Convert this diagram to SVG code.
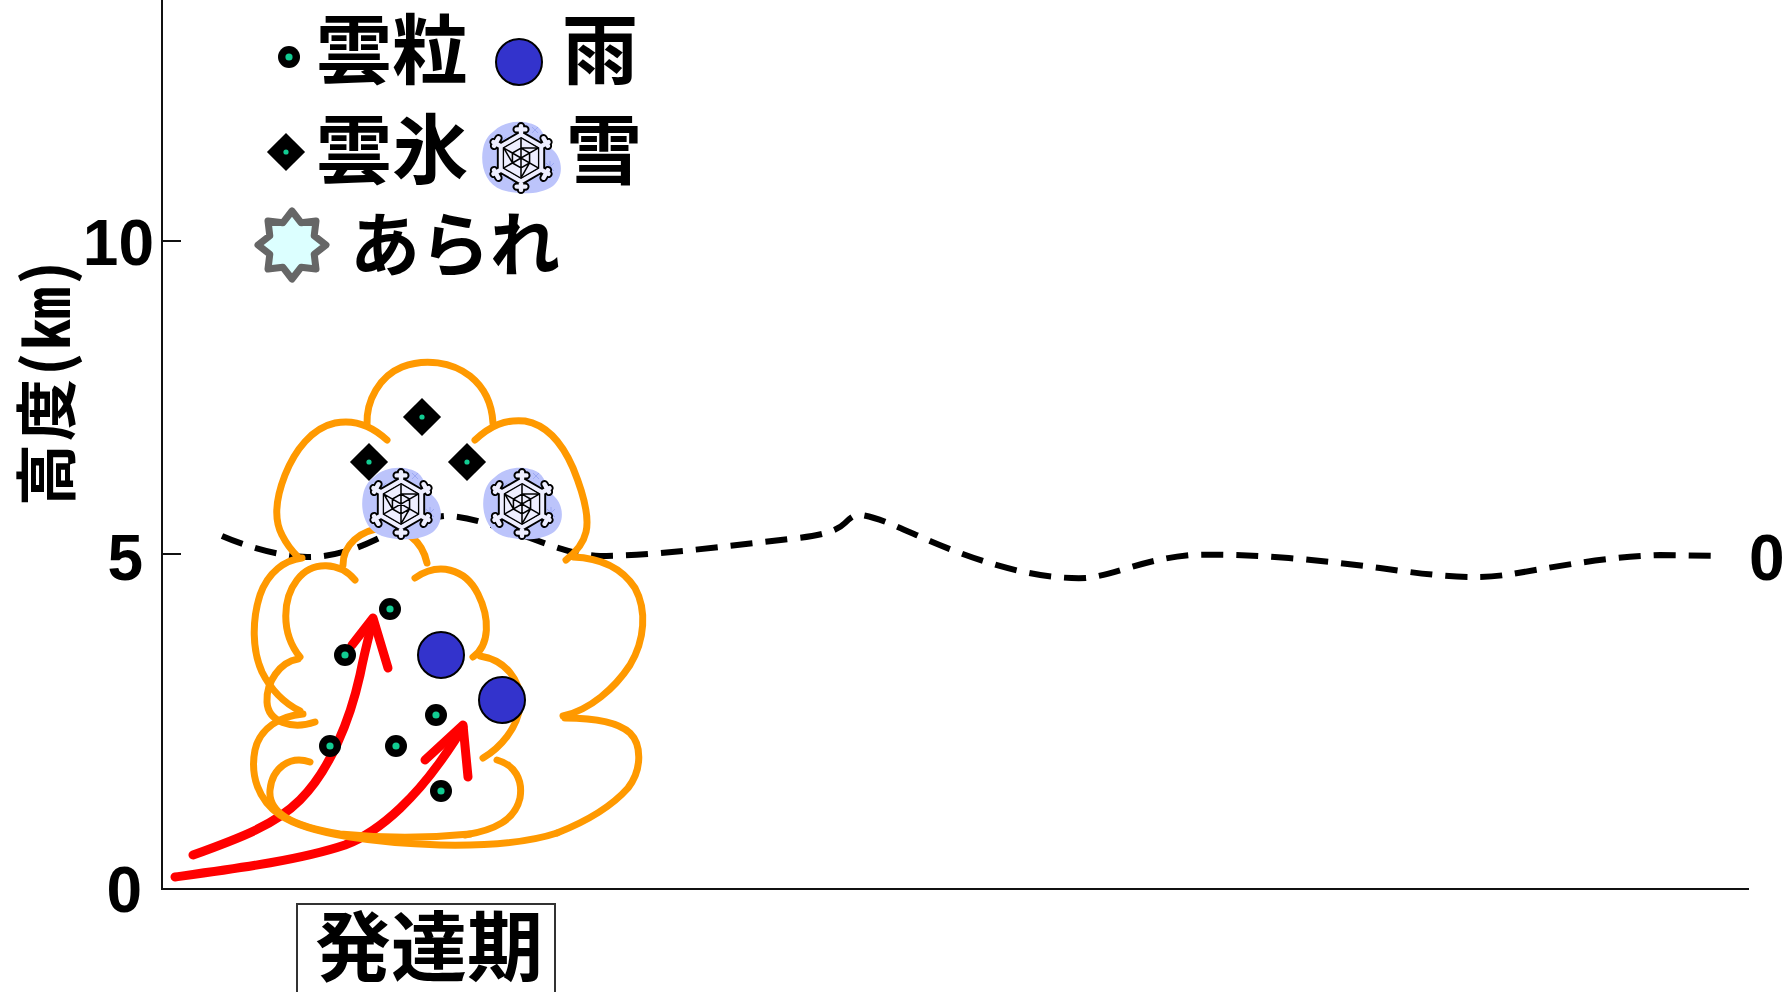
<svg xmlns="http://www.w3.org/2000/svg" xmlns:xlink="http://www.w3.org/1999/xlink" width="1787" height="992" viewBox="0 0 1787 992">
  <style>
    .jp { font-family: "Noto Sans CJK JP", "Noto Sans CJK SC", sans-serif; font-weight: 700; fill: #000; }
    .num { font-family: "Liberation Sans", Arial, sans-serif; font-weight: 700; fill: #000; font-size: 64px; }
    .axis { stroke: #111; stroke-width: 2; fill: none; }
    .cloud { fill: none; stroke: #ff9900; stroke-width: 7; stroke-linecap: round; stroke-linejoin: round; }
    .updraft { fill: none; stroke: #ff0000; stroke-width: 9; stroke-linecap: round; stroke-linejoin: round; }
    .freeze { fill: none; stroke: #000; stroke-width: 6; stroke-dasharray: 22 13; }
    .core { fill: #12cc92; }
  </style>
  <defs>
    <!-- cloud droplet -->
    <g id="drop">
      <circle r="11" fill="#000"/>
      <circle r="3.6" class="core"/>
    </g>
    <!-- cloud ice -->
    <g id="ice">
      <rect x="-13.5" y="-13.5" width="27" height="27" fill="#000" transform="rotate(45)"/>
      <circle r="2.6" class="core"/>
    </g>
    <!-- raindrop -->
    <circle id="rain" r="23" fill="#3333cc" stroke="#000" stroke-width="2"/>
    <!-- hexagonal frame of the snow crystal with its branch tips -->
    <path id="flake-frame" d="M 0,-21 L 18.2,-10.5 L 18.2,10.5 L 0,21 L -18.2,10.5 L -18.2,-10.5 Z M 0,-21 V -29 M -4,-26 H 4 M 18.2,-10.5 L 25,-14.5 M 20.5,-18 L 24.5,-11 M 18.2,10.5 L 25,14.5 M 20.5,18 L 24.5,11 M 0,21 V 29 M -4,26 H 4 M -18.2,10.5 L -25,14.5 M -20.5,18 L -24.5,11 M -18.2,-10.5 L -25,-14.5 M -20.5,-18 L -24.5,-11"/>
    <!-- snow crystal on a soft blob -->
    <g id="snow">
      <path d="M -28,-26 C -16,-38 6,-37 16,-30 C 24,-24 22,-14 31,-7 C 41,2 42,20 31,29 C 19,38 -4,38 -20,33 C -37,27 -42,8 -39,-8 C -37,-18 -33,-22 -28,-26 Z" fill="#bcc4fb"/>
      <g stroke="#9aa6f2" stroke-width="0.9" fill="none">
        <path d="M -24,-20 l 8,8 M -16,-20 l -8,8 M -20,-22 v 12"/>
        <path d="M 24,6 l 8,8 M 32,6 l -8,8 M 28,4 v 12"/>
        <path d="M -10,24 l 7,7 M -3,24 l -7,7"/>
        <path d="M 10,-30 l 6,6 M 16,-30 l -6,6"/>
      </g>
      <g transform="translate(-1,1) scale(1.1)">
        <use xlink:href="#flake-frame" fill="none" stroke="#000" stroke-width="7.5" stroke-linecap="round" stroke-linejoin="round"/>
        <use xlink:href="#flake-frame" fill="none" stroke="#eeeeff" stroke-width="4" stroke-linecap="round" stroke-linejoin="round"/>
        <polygon points="0,-18.5 16,-9.2 16,9.2 0,18.5 -16,9.2 -16,-9.2" fill="#eeeeff" stroke="#000" stroke-width="1.2"/>
        <path d="M 0,-18 V 18 M 15.6,-9 L -15.6,9 M 15.6,9 L -15.6,-9 M 0,-9 L 7.8,-4.5 L 7.8,4.5 L 0,9 L -7.8,4.5 L -7.8,-4.5 Z M 0,-9 L 15.6,-9 M 7.8,4.5 L 0,18 M -7.8,4.5 L -15.6,-9" stroke="#000" stroke-width="1.4" fill="none"/>
      </g>
    </g>
    <!-- hail -->
    <polygon id="hail" points="0,-34 9.2,-22.2 24,-24 22.2,-9.2 34,0 22.2,9.2 24,24 9.2,22.2 0,34 -9.2,22.2 -24,24 -22.2,9.2 -34,0 -22.2,-9.2 -24,-24 -9.2,-22.2" fill="#dcffff" stroke="#666" stroke-width="7" stroke-linejoin="round"/>
  </defs>

  <rect width="1787" height="992" fill="#fff"/>

  <!-- axes -->
  <g id="axes">
    <path class="axis" d="M 162,0 V 889 H 1749 M 162,241 H 181 M 162,554 H 181"/>
    <text class="num" x="154" y="265" text-anchor="end">10</text>
    <text class="num" x="143" y="580" text-anchor="end">5</text>
    <text class="num" x="142" y="912" text-anchor="end">0</text>
    <text class="jp" font-size="62" text-anchor="middle" letter-spacing="3" transform="translate(47,382) rotate(-90)" y="23">高度(㎞)</text>
  </g>

  <!-- freezing level -->
  <g id="freezing-level">
    <path class="freeze" d="M 222,536 C 250,548 280,556 307,557 C 330,557 352,551 375,540 C 400,528 420,518 445,516 C 470,516 500,528 530,538 C 555,547 575,555 600,556 C 650,556 720,547 798,538 C 825,535 838,530 845,523 C 851,517 855,514 862,515 C 880,518 900,528 930,541 C 970,558 1030,580 1086,578 C 1120,574 1140,560 1190,555 C 1250,553 1320,560 1380,568 C 1430,575 1470,580 1505,575 C 1545,569 1600,557 1660,555 L 1722,556"/>
    <text class="num" x="1749" y="580">0</text>
  </g>

  <!-- updrafts -->
  <g id="connectors">
    <path class="updraft" d="M 193,855 C 240,838 275,825 300,800 C 330,770 350,720 360,675 C 365,650 370,632 373,620"/>
    <path class="updraft" d="M 352,645 L 373,618 L 388,668"/>
    <path class="updraft" d="M 175,877 C 240,868 300,860 345,845 C 385,830 420,790 440,762 C 450,748 458,736 463,727"/>
    <path class="updraft" d="M 425,760 L 463,725 L 468,777"/>
  </g>

  <!-- cloud outline -->
  <g id="cloud">
    <path class="cloud" d="M 387,440 C 372,426 355,419 335,423 C 312,428 295,450 285,475 C 276,498 274,520 282,535 C 287,545 292,551 298,557"/>
    <path class="cloud" d="M 367,425 C 366,400 380,376 402,367 C 425,358 452,362 470,376 C 485,388 492,405 493,423"/>
    <path class="cloud" d="M 475,440 C 490,426 505,419 525,421 C 548,425 563,445 573,468 C 582,490 590,515 586,532 C 583,545 575,553 566,560"/>
    <path class="cloud" d="M 302,558 C 285,560 268,572 260,595 C 252,620 252,650 262,672 C 270,688 282,702 300,711"/>
    <path class="cloud" d="M 303,714 C 280,716 260,728 255,750 C 250,775 258,800 280,815 C 310,835 380,843 440,845 C 490,846 530,842 557,833"/>
    <path class="cloud" d="M 557,833 C 585,822 612,806 628,788 C 642,770 642,745 630,733 C 618,722 595,718 565,718"/>
    <path class="cloud" d="M 563,716 C 590,710 615,688 630,665 C 645,640 647,610 635,588 C 622,568 600,558 573,557"/>
    <path class="cloud" d="M 355,580 C 340,562 312,560 297,580 C 283,598 280,632 300,657"/>
    <path class="cloud" d="M 298,659 C 280,662 266,682 267,702 C 268,722 292,730 315,722"/>
    <path class="cloud" d="M 310,762 C 290,755 272,768 270,790 C 268,812 290,826 340,834 C 380,838 430,838 470,834"/>
    <path class="cloud" d="M 343,565 C 343,545 360,530 383,528 C 405,528 422,540 427,563"/>
    <path class="cloud" d="M 415,578 C 438,562 465,568 478,594 C 490,618 490,645 473,657"/>
    <path class="cloud" d="M 480,656 C 505,660 522,680 520,705 C 518,728 500,748 483,758"/>
    <path class="cloud" d="M 497,760 C 515,765 523,780 520,798 C 515,820 495,830 465,835"/>
  </g>

  <!-- particles inside the cloud -->
  <g id="cloud-ice">
    <use xlink:href="#ice" x="422" y="417"/>
    <use xlink:href="#ice" x="369" y="462"/>
    <use xlink:href="#ice" x="467" y="462"/>
  </g>
  <g id="cloud-snow">
    <use xlink:href="#snow" x="402" y="503"/>
    <use xlink:href="#snow" x="523" y="503"/>
  </g>
  <g id="cloud-droplets">
    <use xlink:href="#drop" x="390" y="609"/>
    <use xlink:href="#drop" x="345" y="655"/>
    <use xlink:href="#drop" x="436" y="715"/>
    <use xlink:href="#drop" x="330" y="746"/>
    <use xlink:href="#drop" x="396" y="746"/>
    <use xlink:href="#drop" x="441" y="791"/>
  </g>
  <g id="cloud-rain">
    <use xlink:href="#rain" x="441" y="655"/>
    <use xlink:href="#rain" x="502" y="700"/>
  </g>

  <!-- legend -->
  <g id="legend-droplet">
    <use xlink:href="#drop" x="289" y="57"/>
    <text class="jp" font-size="76" x="316" y="78">雲粒</text>
  </g>
  <g id="legend-rain">
    <use xlink:href="#rain" x="519" y="62"/>
    <text class="jp" font-size="76" x="562" y="78">雨</text>
  </g>
  <g id="legend-ice">
    <use xlink:href="#ice" x="286" y="152"/>
    <text class="jp" font-size="76" x="316" y="178">雲氷</text>
  </g>
  <g id="legend-snow">
    <use xlink:href="#snow" x="522" y="157"/>
    <text class="jp" font-size="76" x="566" y="178">雪</text>
  </g>
  <g id="legend-hail">
    <use xlink:href="#hail" x="292" y="245"/>
    <text class="jp" font-size="70" x="350" y="271">あられ</text>
  </g>

  <!-- stage label -->
  <g id="stage">
    <rect x="297" y="904" width="258" height="100" fill="none" stroke="#333" stroke-width="2"/>
    <text class="jp" font-size="76" x="315" y="975">発達期</text>
  </g>
</svg>
